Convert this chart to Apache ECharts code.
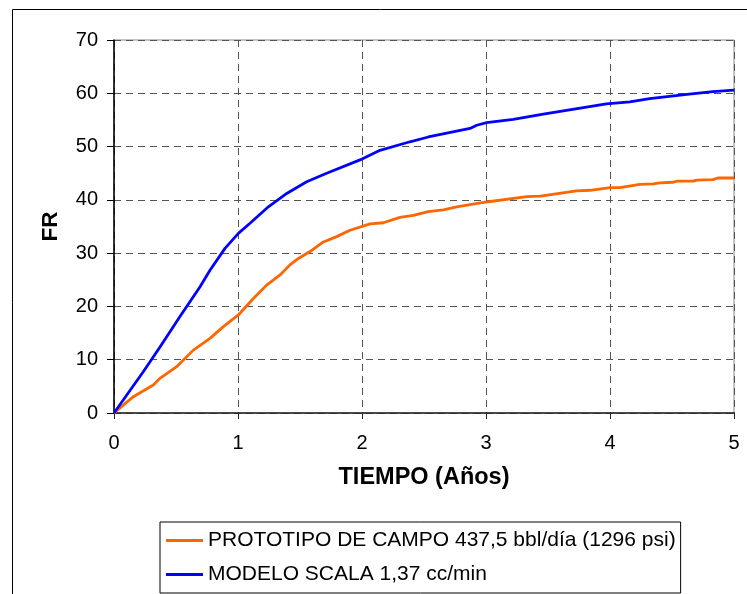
<!DOCTYPE html>
<html>
<head>
<meta charset="utf-8">
<script src="https://cdn.jsdelivr.net/npm/echarts@6/dist/echarts.min.js"></script>
<style>
html,body{margin:0;padding:0;background:#fff;}
#c{width:747px;height:594px;}
</style>
</head>
<body>
<div id="c"></div>
<script>
var campoX = [0, 0.156, 0.317, 0.371, 0.505, 0.640, 0.774, 0.882, 1.003, 1.124, 1.231, 1.339, 1.419, 1.487, 1.581, 1.688, 1.796, 1.903, 2.065, 2.172, 2.306, 2.414, 2.535, 2.656, 2.763, 3.005, 3.33, 3.44, 3.73, 3.84, 4.0, 4.08, 4.24, 4.35, 4.40, 4.51, 4.54, 4.67, 4.70, 4.83, 4.87, 5.0];
var campoY = [0, 3.06, 5.25, 6.5, 8.7, 11.8, 14.0, 16.2, 18.4, 21.5, 24.0, 25.9, 27.8, 29.0, 30.3, 32.1, 33.1, 34.3, 35.5, 35.7, 36.7, 37.1, 37.8, 38.1, 38.7, 39.6, 40.6, 40.7, 41.7, 41.8, 42.3, 42.3, 42.9, 43.0, 43.2, 43.3, 43.5, 43.5, 43.7, 43.8, 44.1, 44.1];
var modeloX = [0, 0.236, 0.371, 0.532, 0.694, 0.774, 0.895, 1.003, 1.097, 1.245, 1.393, 1.554, 1.715, 1.984, 2.145, 2.387, 2.535, 2.871, 2.925, 3.005, 3.22, 3.462, 3.81, 3.97, 4.16, 4.32, 4.62, 4.83, 5.0];
var modeloY = [0, 7.75, 12.4, 18.1, 23.7, 26.8, 30.9, 33.7, 35.6, 38.7, 41.2, 43.4, 45.0, 47.5, 49.3, 50.9, 51.8, 53.4, 54.0, 54.5, 55.1, 56.1, 57.4, 58.0, 58.4, 59.0, 59.8, 60.3, 60.6];
var seriesNames = ['PROTOTIPO DE CAMPO 437,5 bbl/día (1296 psi)', 'MODELO SCALA 1,37 cc/min'];
var xTitle = 'TIEMPO (Años)';
var yTitle = 'FR';

function pairs(xs, ys){ return xs.map(function(x,i){ return [x, ys[i]]; }); }

var chart = echarts.init(document.getElementById('c'), null, {renderer:'canvas'});
var font = 'Arial, "Liberation Sans", sans-serif';
var grid = '#555';
chart.setOption({
  animation: false,
  backgroundColor: '#fff',
  textStyle: {fontFamily: font},
  graphic: [{
    type: 'rect', left: 10, top: 7, z: -1,
    shape: {width: 800, height: 700},
    style: {fill: 'none', stroke: '#000', lineWidth: 1}
  }],
  grid: {left: 114, right: 13, top: 40, bottom: 181, show: true, borderColor: '#888', borderWidth: 1},
  legend: {
    orient: 'vertical', left: 160, top: 522,
    padding: [8, 5, 8, 6],
    itemGap: 13, itemWidth: 37, itemHeight: 3,
    icon: 'rect',
    borderColor: '#000', borderWidth: 1,
    textStyle: {fontFamily: font, fontSize: 21, color: '#000'},
    data: seriesNames
  },
  xAxis: {
    type: 'value', min: 0, max: 5, interval: 1,
    name: xTitle, nameLocation: 'middle', nameGap: 53,
    nameTextStyle: {fontFamily: font, fontSize: 23.5, fontWeight: 'bold', color: '#000'},
    axisLine: {lineStyle: {color: '#222', width: 1.5}},
    axisTick: {show: true, length: 6, lineStyle: {color: '#222'}},
    axisLabel: {margin: 20, fontSize: 20, color: '#000', fontFamily: font},
    splitLine: {show: true, lineStyle: {color: grid, type: [7, 5], width: 1}}
  },
  yAxis: {
    type: 'value', min: 0, max: 70, interval: 10,
    name: yTitle, nameLocation: 'middle', nameGap: 52, nameMoveOverlap: false,
    nameTextStyle: {fontFamily: font, fontSize: 22.5, fontWeight: 'bold', color: '#000'},
    axisLine: {show: true, lineStyle: {color: '#000', width: 1.5}},
    axisTick: {show: true, length: 7, lineStyle: {color: '#000'}},
    axisLabel: {margin: 16, fontSize: 20, color: '#000', fontFamily: font},
    splitLine: {show: true, lineStyle: {color: grid, type: [7, 5], width: 1}}
  },
  series: [
    {name: seriesNames[0], type: 'line', data: pairs(campoX, campoY), symbol: 'none', color: '#FF6600', lineStyle: {width: 2.8, color: '#FF6600'}, z: 3},
    {name: seriesNames[1], type: 'line', data: pairs(modeloX, modeloY), symbol: 'none', color: '#0000FF', lineStyle: {width: 2.8, color: '#0000FF'}, z: 4}
  ]
});
</script>
</body>
</html>
